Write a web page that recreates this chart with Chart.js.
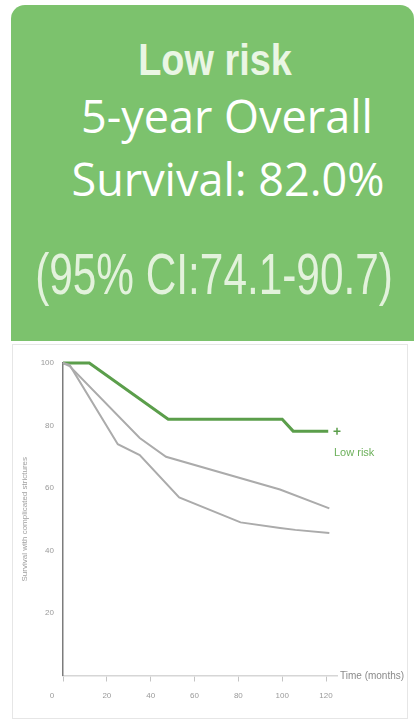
<!DOCTYPE html>
<html>
<head>
<meta charset="utf-8">
<script src="https://cdn.jsdelivr.net/npm/chart.js@4/dist/chart.umd.min.js"></script>
<style>
  html, body { margin: 0; padding: 0; background: #ffffff; }
  body { width: 416px; height: 723px; position: relative; overflow: hidden; }
  #banner {
    position: absolute; left: 11px; top: 5px; width: 403px; height: 336px;
    background: #7cc26d; border-radius: 14px 14px 0 0;
  }
  /* each line is centred on its own x position inside the banner */
  .line { position: absolute; white-space: nowrap; transform-origin: 50% 50%; }
  #group {
    top: 33px; left: 204px; transform: translateX(-50%) scaleX(0.86);
    font-family: "Liberation Sans", sans-serif;
    font-weight: bold; font-size: 44px; line-height: 44px; color: #eaf6e4;
  }
  #os1, #os2 {
    font-family: "Open Sans", sans-serif; font-size: 45px; line-height: 45px; color: #ffffff;
    transform: translateX(-50%);
  }
  #os1 { top: 88px; left: 216px; }
  #os2 { top: 151px; left: 217px; }
  #ci {
    top: 240px; left: 203px; transform: translateX(-50%) scaleX(0.73);
    font-family: "Liberation Sans", sans-serif;
    font-size: 58px; line-height: 58px; color: #e3f2dc;
  }
  #panel {
    position: absolute; left: 12px; top: 344px; width: 394px; height: 373px;
    border: 1px solid #e6e6e6; background: #ffffff;
  }
  #plot { position: absolute; left: 14px; top: 346px; }
</style>
</head>
<body>
<div id="banner">
  <div class="line" id="group">Low risk</div>
  <div class="line" id="os1">5-year Overall</div>
  <div class="line" id="os2">Survival: 82.0%</div>
  <div class="line" id="ci">(95% CI:74.1-90.7)</div>
</div>
<div id="panel"></div>
<canvas id="plot" width="392" height="370"></canvas>
<script>
// Kaplan-Meier style survival curves (months vs. % surviving)
const lowRiskMonths = [0, 12, 48, 100, 105, 121];
const lowRiskSurvival = [100, 100, 82, 82, 78.2, 78.2];

const midRiskMonths = [0, 3, 35, 47, 99, 121.5];
const midRiskSurvival = [100, 99, 76, 70, 59.5, 53.5];

const highRiskMonths = [0, 3, 25, 35, 53, 81, 99, 106, 121.5];
const highRiskSurvival = [100, 99.4, 74, 70.5, 57, 49, 47.2, 46.6, 45.6];

const censorMonth = [125];
const censorSurvival = [78.2];

const xTickValues = [0, 20, 40, 60, 80, 100, 120];
const yTickValues = [20, 40, 60, 80, 100];

const seriesLabel = 'Low risk';
const xTitle = 'Time (months)';
const yTitle = 'Survival with complicated strictures';

const toPoints = (xs, ys) => xs.map((x, i) => ({ x: x, y: ys[i] }));

const GREEN = '#5b9e4b';
const GREY = '#ababab';
const TICK_FONT = { family: '"Liberation Sans", sans-serif', size: 8 };

// Label for the low-risk curve and the time-axis caption
const annotations = {
  id: 'annotations',
  afterDraw(chart) {
    const { ctx, scales } = chart;
    const x = scales.x, y = scales.y;
    ctx.save();
    ctx.textAlign = 'left';
    ctx.textBaseline = 'middle';
    ctx.font = '11px "Liberation Sans", sans-serif';
    ctx.fillStyle = '#6cb05a';
    ctx.fillText(seriesLabel, x.getPixelForValue(censorMonth[0]) - 3, y.getPixelForValue(censorSurvival[0]) + 22);
    ctx.font = '10px "Liberation Sans", sans-serif';
    ctx.fillStyle = '#8a8a8a';
    ctx.fillText(xTitle, x.getPixelForValue(censorMonth[0]) + 3, y.getPixelForValue(0) + 1);
    ctx.restore();
  }
};

new Chart(document.getElementById('plot'), {
  type: 'line',
  data: {
    datasets: [
      {
        data: toPoints(midRiskMonths, midRiskSurvival),
        borderColor: GREY, borderWidth: 2, pointRadius: 0, tension: 0
      },
      {
        data: toPoints(highRiskMonths, highRiskSurvival),
        borderColor: GREY, borderWidth: 2, pointRadius: 0, tension: 0
      },
      {
        label: seriesLabel,
        data: toPoints(lowRiskMonths, lowRiskSurvival),
        borderColor: GREEN, borderWidth: 3, pointRadius: 0, tension: 0
      },
      {
        data: toPoints(censorMonth, censorSurvival),
        showLine: false, pointStyle: 'cross', pointRadius: 3.5,
        borderColor: GREEN, borderWidth: 1.5
      }
    ]
  },
  options: {
    responsive: false,
    animation: false,
    clip: false,
    layout: { padding: { top: 17, right: 69, left: 0, bottom: 0 } },
    plugins: { legend: { display: false }, tooltip: { enabled: false } },
    scales: {
      x: {
        type: 'linear', min: 0, max: 125,
        afterFit(scale) { scale.height = 40.5; },
        afterBuildTicks(scale) { scale.ticks = xTickValues.map(v => ({ value: v })); },
        border: { color: '#d6d6d6', width: 1.5 },
        grid: { drawOnChartArea: false, drawTicks: true, tickLength: 6, color: '#c4c4c4' },
        ticks: {
          font: TICK_FONT, color: '#9a9a9a', padding: 9, maxRotation: 0,
          callback: v => (v === 0 ? '0          ' : String(v))
        }
      },
      y: {
        type: 'linear', min: 0, max: 100,
        afterFit(scale) { scale.width = 49; },
        afterBuildTicks(scale) { scale.ticks = yTickValues.map(v => ({ value: v })); },
        border: { color: '#7c7c7c', width: 1.5 },
        grid: { drawOnChartArea: false, drawTicks: false },
        ticks: { font: TICK_FONT, color: '#9a9a9a', padding: 9 },
        title: {
          display: true, text: yTitle, color: '#a0a0a0',
          font: TICK_FONT, padding: { top: 6, bottom: 0 }
        }
      }
    }
  },
  plugins: [annotations]
});
</script>
</body>
</html>
